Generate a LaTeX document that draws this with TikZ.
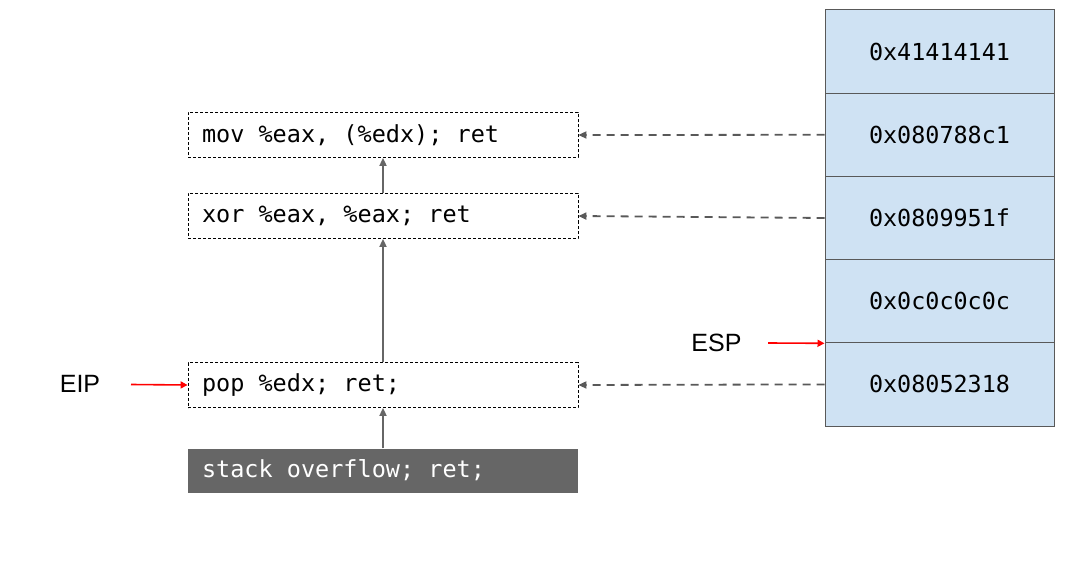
\documentclass[tikz,border=0pt]{standalone}
\usepackage{fontspec}
\setmainfont{Liberation Sans}
\newfontfamily\codefont{DejaVu Sans Mono}
\newcommand\codesize[1]{\codefont\fontsize{#1}{27}\selectfont}
\newcommand\codespc{\hbox to 0.602em{\hfil}}
\usetikzlibrary{arrows.meta}
\definecolor{cellblue}{HTML}{CFE2F3}
\definecolor{linegray}{HTML}{595959}
\definecolor{boxgray}{HTML}{666666}
\begin{document}
\begin{tikzpicture}[x=1pt,y=-1pt,
  gadget/.style={draw=black, line width=0.8pt, dash pattern=on 3pt off 2pt,
    minimum width=390pt, minimum height=45pt, text width=362pt,
    inner xsep=14pt, inner ysep=0pt, font=\codesize{23.5}},
  overflowbox/.style={fill=boxgray, text=white, minimum width=390pt, minimum height=44pt,
    text width=362pt, inner xsep=14pt, inner ysep=0pt,
    font=\codesize{23.5}},
  cell/.style={draw=linegray, line width=1pt, fill=cellblue, minimum width=229pt,
    minimum height=83.2pt, inner sep=0pt, font=\codesize{23.4}},
  reglabel/.style={inner sep=0pt, font=\fontsize{25}{30}\selectfont},
  flow/.style={draw=boxgray, line width=1.8pt, -{Triangle[length=8pt,width=7pt]}},
  ptr/.style={draw=linegray, line width=1.8pt, dash pattern=on 8pt off 6pt,
    -{Triangle[length=8pt,width=7pt]}},
  redarrow/.style={draw=red, line width=1.6pt, -{Triangle[length=7pt,width=7pt]}}
]
\useasboundingbox (0,0) rectangle (1075,561);

% gadgets
\node[gadget] (mov) at (383,135) {mov\codespc\%eax,\codespc(\%edx);\codespc ret};
\node[gadget] (xor) at (383,216) {xor\codespc\%eax,\codespc\%eax;\codespc ret};
\node[gadget] (pop) at (383,385) {pop\codespc\%edx;\codespc ret;};
\node[overflowbox] (ovf) at (383,470.5) {stack\codespc overflow;\codespc ret;};

% stack cells
\node[cell] (c1) at (939.5,51.6) {0x41414141};
\node[cell] (c2) at (939.5,134.8) {0x080788c1};
\node[cell] (c3) at (939.5,218) {0x0809951f};
\node[cell] (c4) at (939.5,301.2) {0x0c0c0c0c};
\node[cell] (c5) at (939.5,384.4) {0x08052318};

% flow arrows
\draw[flow] (ovf.north) -- (pop.south);
\draw[flow] (pop.north) -- (xor.south);
\draw[flow] (xor.north) -- (mov.south);

% pointer arrows
\draw[ptr] (c2.west) -- (mov.east);
\draw[ptr] (c3.west) -- (xor.east);
\draw[ptr] (c5.west) -- (pop.east);

% registers
\node[reglabel] (eip) at (80,384) {EIP};
\node[reglabel] (esp) at (716.5,343) {ESP};
\coordinate (eipstart) at (131,384.5);
\coordinate (espstart) at (768,343);
\draw[redarrow] (eipstart) -- (pop.west);
\draw[redarrow] (espstart) -- (c4.south west);
\end{tikzpicture}
\end{document}
